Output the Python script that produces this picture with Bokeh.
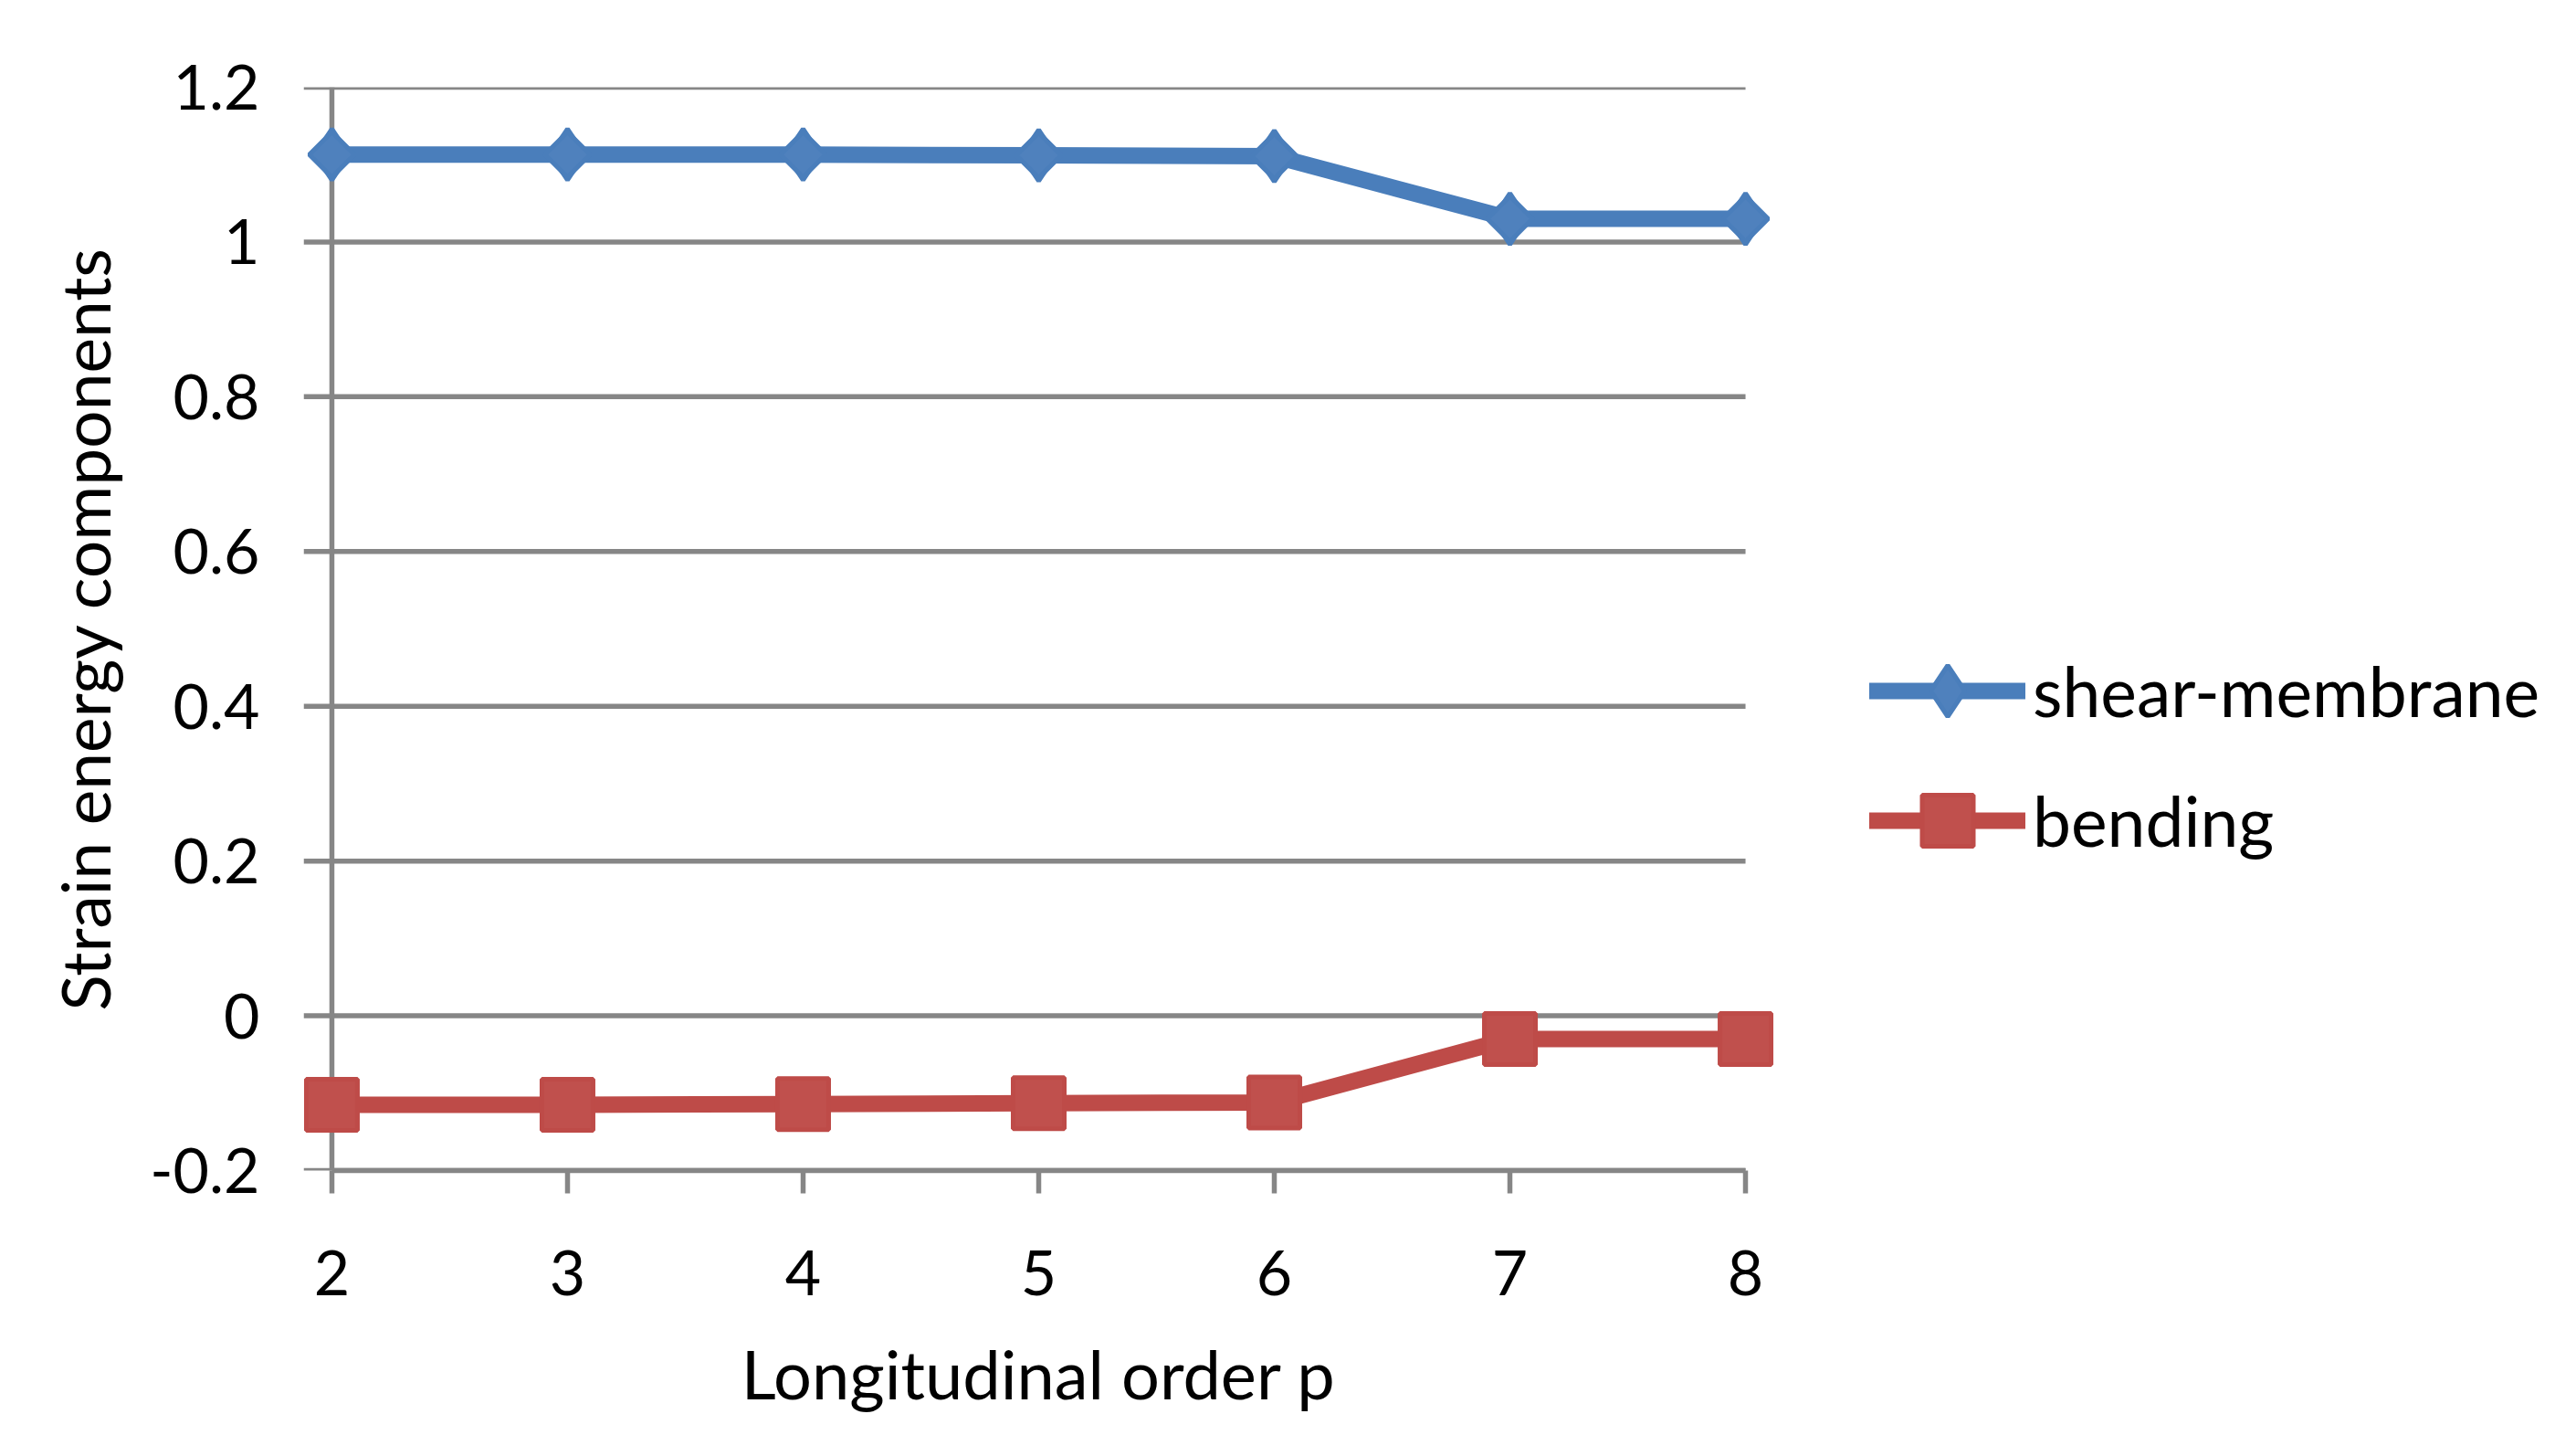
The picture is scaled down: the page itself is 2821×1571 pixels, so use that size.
from bokeh.plotting import figure
from bokeh.models import FixedTicker, Range1d, Legend, LegendItem
from bokeh.embed import file_html
from bokeh.resources import INLINE
import math

# ---- data ----
p_order = [2, 3, 4, 5, 6, 7, 8]
shear_membrane = [1.113, 1.113, 1.113, 1.112, 1.111, 1.030, 1.030]
bending = [-0.115, -0.115, -0.114, -0.113, -0.112, -0.030, -0.030]
y_ticks = [-0.2, 0.0, 0.2, 0.4, 0.6, 0.8, 1.0, 1.2]
y_tick_labels = ["-0.2", "0", "0.2", "0.4", "0.6", "0.8", "1", "1.2"]
x_ticks = [2, 3, 4, 5, 6, 7, 8]
series_names = ["shear-membrane", "bending"]

FONT = "Lato"
GRID = "#868686"
BLUE_LINE, BLUE_FILL = "#4A7EBB", "#4F81BD"
RED_LINE, RED_FILL = "#BE4B48", "#C0504D"

pad = 0.12
x0 = min(p_order) - pad
p = figure(frame_width=1610, frame_height=1186,
           min_border_left=332, min_border_right=860,
           min_border_top=95, min_border_bottom=270,
           x_range=Range1d(x0, max(p_order) + pad),
           y_range=Range1d(y_ticks[0], y_ticks[-1]),
           output_backend="svg", toolbar_location=None)
p.outline_line_color = None
p.xgrid.visible = False
p.ygrid.visible = False

# horizontal grid lines (their left overhang acts as the y tick marks)
p.segment(x0=[x0] * len(y_ticks), x1=[max(p_order)] * len(y_ticks),
          y0=y_ticks, y1=y_ticks, line_color=GRID, line_width=5.5)
# vertical axis line at the first category
p.segment(x0=[min(p_order)], x1=[min(p_order)], y0=[y_ticks[0]], y1=[y_ticks[-1]],
          line_color=GRID, line_width=5.5)

# x axis
xa = p.xaxis[0]
xa.ticker = FixedTicker(ticks=x_ticks)
xa.bounds = (min(p_order), max(p_order))
xa.axis_line_color = GRID
xa.axis_line_width = 5.5
xa.major_tick_line_color = GRID
xa.major_tick_line_width = 5.5
xa.major_tick_in = 0
xa.major_tick_out = 25
xa.minor_tick_line_color = None
xa.major_label_text_font = FONT
xa.major_label_text_font_size = "68px"
xa.major_label_text_color = "black"
xa.major_label_standoff = 62
xa.axis_label = "Longitudinal order p"
xa.axis_label_text_font = FONT
xa.axis_label_text_font_size = "74px"
xa.axis_label_text_font_style = "normal"
xa.axis_label_text_color = "black"
xa.axis_label_standoff = 38

# y axis (labels only; line drawn at x = 2 above)
ya = p.yaxis[0]
ya.ticker = FixedTicker(ticks=y_ticks)
ya.major_label_overrides = {v: s for v, s in zip(y_ticks, y_tick_labels)}
ya.axis_line_color = None
ya.major_tick_line_color = None
ya.major_tick_in = 0
ya.major_tick_out = 0
ya.minor_tick_line_color = None
ya.major_label_text_font = FONT
ya.major_label_text_font_size = "68px"
ya.major_label_text_color = "black"
ya.major_label_standoff = 48
ya.axis_label = "Strain energy components"
ya.axis_label_text_font = FONT
ya.axis_label_text_font_size = "73px"
ya.axis_label_text_font_style = "normal"
ya.axis_label_text_color = "black"
ya.axis_label_standoff = 24

# series
l1 = p.line(p_order, shear_membrane, line_color=BLUE_LINE, line_width=18, line_cap="round")
m1d = p.scatter(p_order, shear_membrane, marker="diamond", size=56,
                fill_color=BLUE_FILL, line_color=BLUE_LINE, line_width=5)
m1 = p.scatter(p_order, shear_membrane, marker="square", angle=math.pi / 4, size=35,
               fill_color=BLUE_FILL, line_color=BLUE_LINE, line_width=5)
l2 = p.line(p_order, bending, line_color=RED_LINE, line_width=18, line_cap="round")
m2 = p.scatter(p_order, bending, marker="square", size=56,
               fill_color=RED_FILL, line_color=RED_LINE, line_width=5)

legend = Legend(items=[LegendItem(label=series_names[0], renderers=[l1, m1d]),
                       LegendItem(label=series_names[1], renderers=[l2, m2])],
                location=(105, 313), orientation="vertical",
                glyph_width=171, glyph_height=140, label_height=86, spacing=2,
                label_standoff=8, padding=0, margin=0,
                border_line_color=None, background_fill_alpha=0,
                label_text_font=FONT, label_text_font_size="75px",
                label_text_color="black")
p.add_layout(legend, "right")

open("out.html", "w").write(file_html(p, INLINE))
